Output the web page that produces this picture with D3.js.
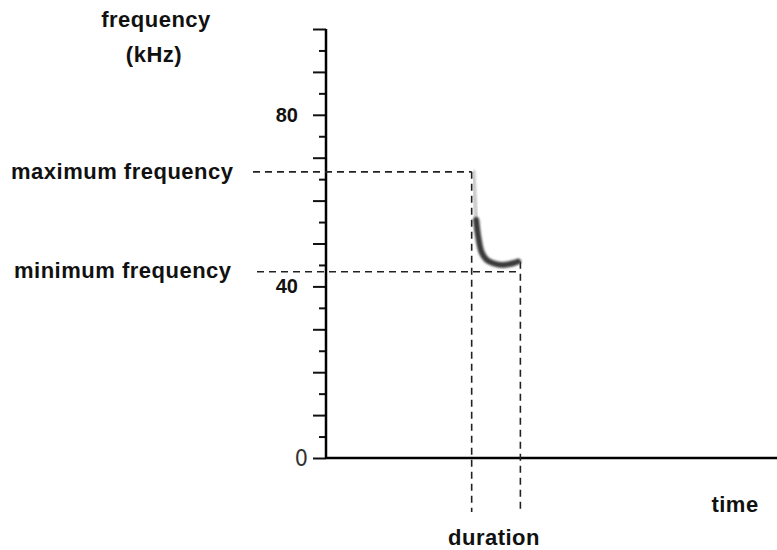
<!DOCTYPE html>
<html>
<head>
<meta charset="utf-8">
<script src="https://cdn.jsdelivr.net/npm/d3@7"></script>
<style>
  body { margin: 0; background: #fff; }
  text { font-family: "Liberation Sans", Arial, sans-serif; font-weight: bold; fill: #111; }
</style>
</head>
<body>
<div id="chart"></div>
<script>
// frequency axis (kHz)
var freqLabels = [0, 40, 80];
var majorTicks = [0, 10, 20, 30, 40, 50, 60, 70, 80, 90, 100];
var minorTicks = [5, 15, 25, 35, 45, 55, 65, 75, 85, 95];

// call shape (time in arbitrary units, freq in kHz)
var faintTime = [32.7, 33.0, 33.3, 33.5];
var faintFreq = [66.7, 60.6, 55.5, 53.0];
var darkTime = [33.3, 33.8, 34.5, 35.6, 37.1, 39.3, 41.5, 42.6];
var darkFreq = [55.5, 51.3, 48.0, 46.2, 45.4, 45.0, 45.4, 45.8];

// measured parameters
var maxFreq = 66.7,
    minFreq = 43.4,
    durStart = 32.3,
    durEnd = 43.1;

var width = 777,
    height = 550,
    marginLeft = 326,
    axisBottom = 458,
    axisTop = 29;

var svg = d3.select('#chart').append('svg')
    .attr('width', width)
    .attr('height', height);

var y = d3.scaleLinear().domain([0, 100]).range([axisBottom, axisTop]);
var x = d3.scaleLinear().domain([0, 100]).range([marginLeft, width]);

// ticks: long every 10, short every 5
var majorAxis = d3.axisLeft(y).tickValues(majorTicks).tickSize(13).tickFormat('');
var minorAxis = d3.axisLeft(y).tickValues(minorTicks).tickSize(7).tickFormat('');

svg.append('g').attr('transform', 'translate(' + marginLeft + ',0)').call(majorAxis)
    .call(function(g) { g.select('.domain').remove(); })
    .selectAll('line').attr('stroke', '#111').attr('stroke-width', 2);
svg.append('g').attr('transform', 'translate(' + marginLeft + ',0)').call(minorAxis)
    .call(function(g) { g.select('.domain').remove(); })
    .selectAll('line').attr('stroke', '#111').attr('stroke-width', 2);

// axis lines
svg.append('line')
    .attr('x1', marginLeft).attr('x2', marginLeft)
    .attr('y1', y(100)).attr('y2', y(0) + 1)
    .attr('stroke', '#000').attr('stroke-width', 2.5);
svg.append('line')
    .attr('x1', marginLeft).attr('x2', width)
    .attr('y1', y(0)).attr('y2', y(0))
    .attr('stroke', '#000').attr('stroke-width', 2.5);

// tick labels (the 0 is a thin narrow glyph in the original)
svg.selectAll('.flabel')
    .data(freqLabels)
    .enter()
    .append('text')
    .attr('class', 'flabel')
    .attr('x', function(d) { return d === 0 ? 308 : 298; })
    .attr('y', function(d) { return d === 0 ? y(d) + 7.5 : y(d) + 7; })
    .attr('text-anchor', 'end')
    .style('font-family', function(d) { return d === 0 ? '"Liberation Sans Narrow", "DejaVu Sans Condensed", sans-serif' : null; })
    .style('font-size', function(d) { return d === 0 ? '23px' : '20px'; })
    .style('font-weight', function(d) { return d === 0 ? 'normal' : 'bold'; })
    .style('fill', function(d) { return d === 0 ? '#333' : null; })
    .text(function(d) { return d; });

// dashed guide lines
var dash = '7,5';
function guide(x1, y1, x2, y2) {
    svg.append('line')
        .attr('x1', x1).attr('y1', y1)
        .attr('x2', x2).attr('y2', y2)
        .attr('stroke', '#222')
        .attr('stroke-width', 1.6)
        .attr('stroke-dasharray', dash);
}
guide(253, y(maxFreq), x(durStart), y(maxFreq));
guide(257, y(minFreq), x(durEnd), y(minFreq));
guide(x(durStart), y(maxFreq), x(durStart), 512);
guide(x(durEnd), y(minFreq) - 10, x(durEnd), 512);

// the call
var blur = svg.append('defs').append('filter').attr('id', 'soft');
blur.append('feGaussianBlur').attr('stdDeviation', 0.8);

var line = d3.line()
    .x(function(d) { return x(d[0]); })
    .y(function(d) { return y(d[1]); })
    .curve(d3.curveCatmullRom);

svg.append('path')
    .datum(d3.zip(faintTime, faintFreq))
    .attr('d', line)
    .attr('fill', 'none')
    .attr('stroke', '#c8c8c8')
    .attr('stroke-width', 4)
    .attr('stroke-linecap', 'round')
    .attr('filter', 'url(#soft)');

svg.append('path')
    .datum(d3.zip(darkTime, darkFreq))
    .attr('d', line)
    .attr('fill', 'none')
    .attr('stroke', '#3a3a3a')
    .attr('stroke-width', 6)
    .attr('stroke-linecap', 'round')
    .attr('filter', 'url(#soft)');

// labels
function label(txt, px, py, anchor) {
    svg.append('text')
        .attr('x', px).attr('y', py)
        .attr('text-anchor', anchor || 'start')
        .style('font-size', '22px')
        .style('letter-spacing', '0.5px')
        .text(txt);
}
label('frequency', 156, 27, 'middle');
label('(kHz)', 154, 62, 'middle');
label('maximum frequency', 11, 179);
label('minimum frequency', 14, 278);
label('time', 735, 512, 'middle');
label('duration', 494, 545, 'middle');
</script>
</body>
</html>
